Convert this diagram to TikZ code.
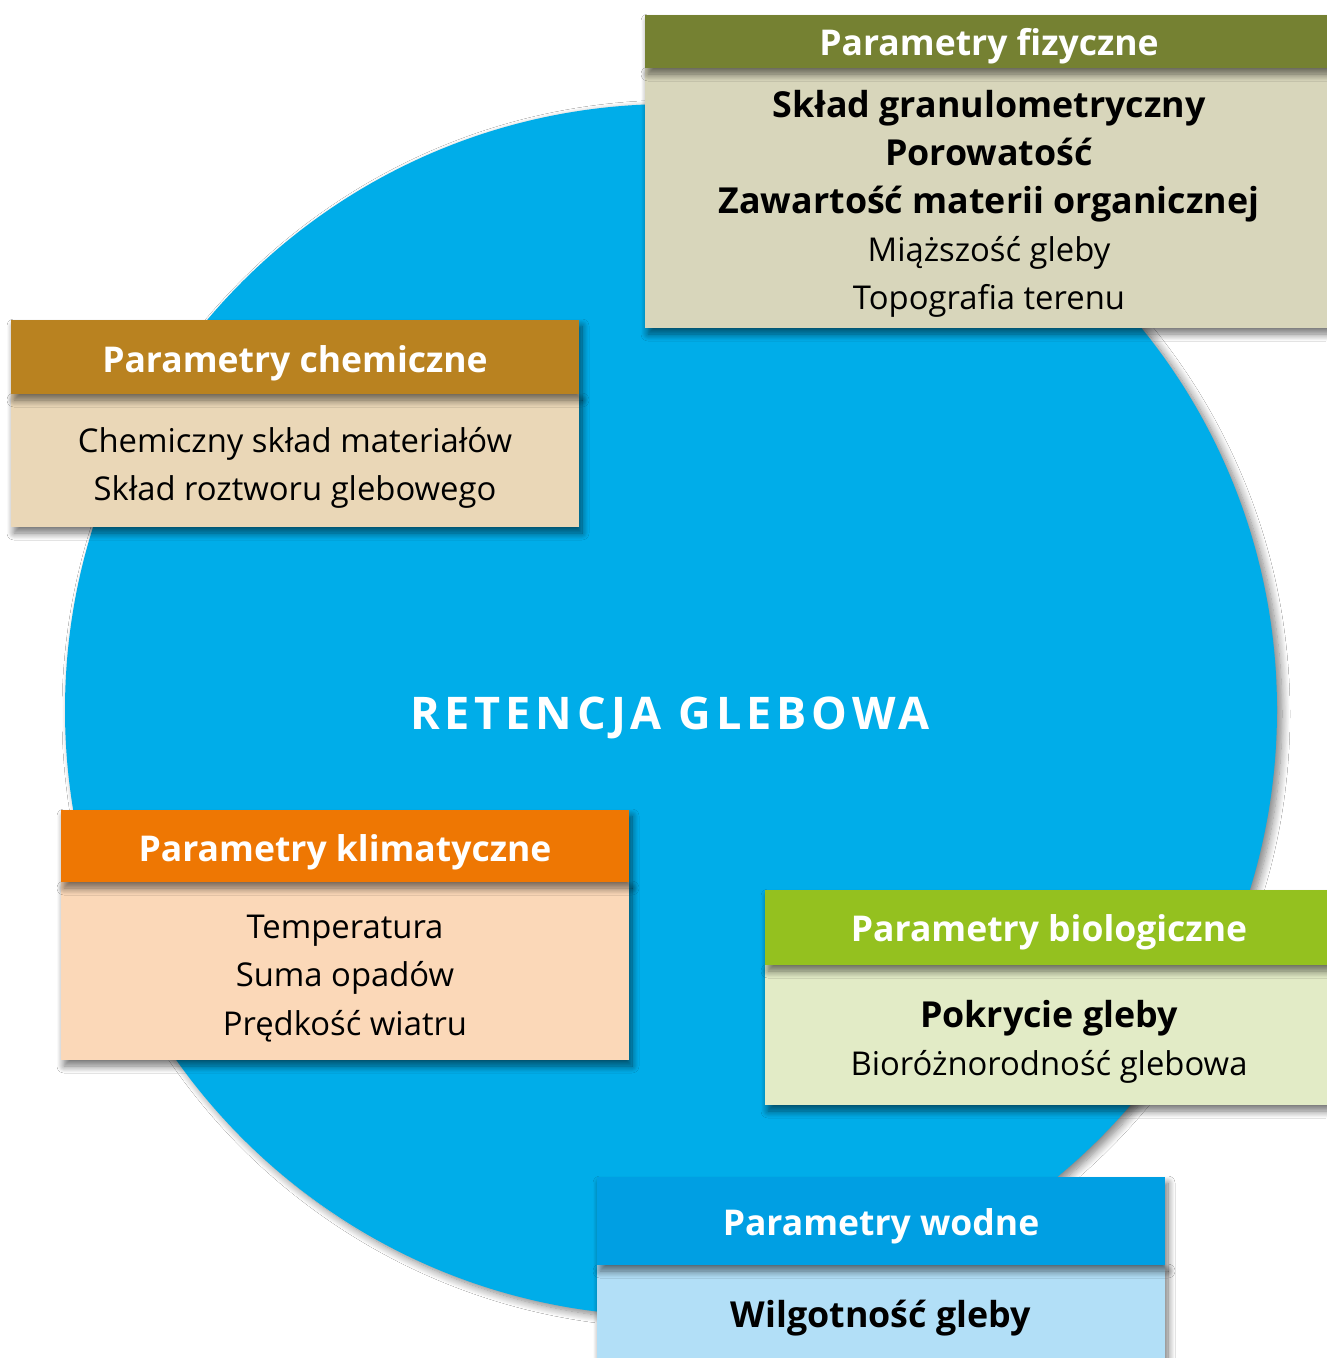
\documentclass[tikz,border=0pt]{standalone}
\usepackage{fontspec}
\setmainfont{Open Sans}
\newfontfamily\spacedfont{Open Sans}[LetterSpace=11]
\usetikzlibrary{shadows.blur}
\definecolor{circblue}{HTML}{00ADE9}
\definecolor{fizH}{HTML}{758132}
\definecolor{fizB}{HTML}{D8D6BB}
\definecolor{chemH}{HTML}{B98220}
\definecolor{chemB}{HTML}{EAD7B7}
\definecolor{klimH}{HTML}{EE7703}
\definecolor{klimB}{HTML}{FBD8B8}
\definecolor{bioH}{HTML}{94C11F}
\definecolor{bioB}{HTML}{E2EBC6}
\definecolor{wodH}{HTML}{009FE3}
\definecolor{wodB}{HTML}{B2DFF7}
\begin{document}
\begin{tikzpicture}[x=1pt,y=-1pt,
  shd/.style={blur shadow={shadow xshift=3pt,shadow yshift=-6pt,shadow blur radius=7pt,shadow blur steps=10,shadow opacity=55}},
  panel/.style={shd,anchor=north west,inner sep=0pt,outer sep=0pt},
  hdrtxt/.style={anchor=base,inner sep=0pt,text=white,font=\fontsize{35.5}{40}\selectfont\bfseries},
  boldline/.style={anchor=base,inner sep=0pt,text=black,font=\fontsize{35.8}{40}\selectfont\bfseries},
  normline/.style={anchor=base,inner sep=0pt,text=black,font=\fontsize{32.8}{40}\selectfont},
]
\useasboundingbox (0,0) rectangle (1326,1358);
\fill[white] (0,0) rectangle (1326,1358);
% circle
\node[circle,fill=circblue,minimum size=1212pt,inner sep=0pt,
  blur shadow={shadow xshift=5pt,shadow yshift=-4pt,shadow blur radius=8pt,shadow blur steps=10,shadow opacity=50}] (circ) at (671,710) {};
\node[anchor=base,inner sep=0pt,text=white,font=\fontsize{45}{50}\selectfont\bfseries\spacedfont] (title) at (670,729) {RETENCJA GLEBOWA};

% fizyczne
\node[panel,fill=fizB,minimum width=700pt,minimum height=260pt] (fizB) at (645,68) {};
\node[panel,fill=fizH,minimum width=700pt,minimum height=53pt] (fizH) at (645,15) {};
\node[hdrtxt] (fizT) at (989,55) {Parametry fizyczne};
\node[boldline] (fiz1) at (989,117) {Skład granulometryczny};
\node[boldline] (fiz2) at (989,165) {Porowatość};
\node[boldline] (fiz3) at (989,213) {Zawartość materii organicznej};
\node[normline] (fiz4) at (989,261) {Miąższość gleby};
\node[normline] (fiz5) at (989,309) {Topografia terenu};

% chemiczne
\node[panel,fill=chemB,minimum width=568pt,minimum height=133pt] (chemB) at (11,394) {};
\node[panel,fill=chemH,minimum width=568pt,minimum height=74pt] (chemH) at (11,320) {};
\node[hdrtxt] (chemT) at (295,372) {Parametry chemiczne};
\node[normline] (chem1) at (295,452) {Chemiczny skład materiałów};
\node[normline] (chem2) at (295,500) {Skład roztworu glebowego};

% klimatyczne
\node[panel,fill=klimB,minimum width=568pt,minimum height=178pt] (klimB) at (61,882) {};
\node[panel,fill=klimH,minimum width=568pt,minimum height=72pt] (klimH) at (61,810) {};
\node[hdrtxt] (klimT) at (345,861) {Parametry klimatyczne};
\node[normline] (klim1) at (345,938) {Temperatura};
\node[normline] (klim2) at (345,986) {Suma opadów};
\node[normline] (klim3) at (345,1035) {Prędkość wiatru};

% biologiczne
\node[panel,fill=bioB,minimum width=580pt,minimum height=140pt] (bioB) at (765,965) {};
\node[panel,fill=bioH,minimum width=580pt,minimum height=75pt] (bioH) at (765,890) {};
\node[hdrtxt] (bioT) at (1049,941) {Parametry biologiczne};
\node[boldline] (bio1) at (1049,1027) {Pokrycie gleby};
\node[normline] (bio2) at (1049,1075) {Bioróżnorodność glebowa};

% wodne
\node[panel,fill=wodB,minimum width=568pt,minimum height=110pt] (wodB) at (597,1265) {};
\node[panel,fill=wodH,minimum width=568pt,minimum height=88pt] (wodH) at (597,1177) {};
\node[hdrtxt] (wodT) at (881,1235) {Parametry wodne};
\node[boldline] (wod1) at (881,1327) {Wilgotność gleby};
\end{tikzpicture}
\end{document}
